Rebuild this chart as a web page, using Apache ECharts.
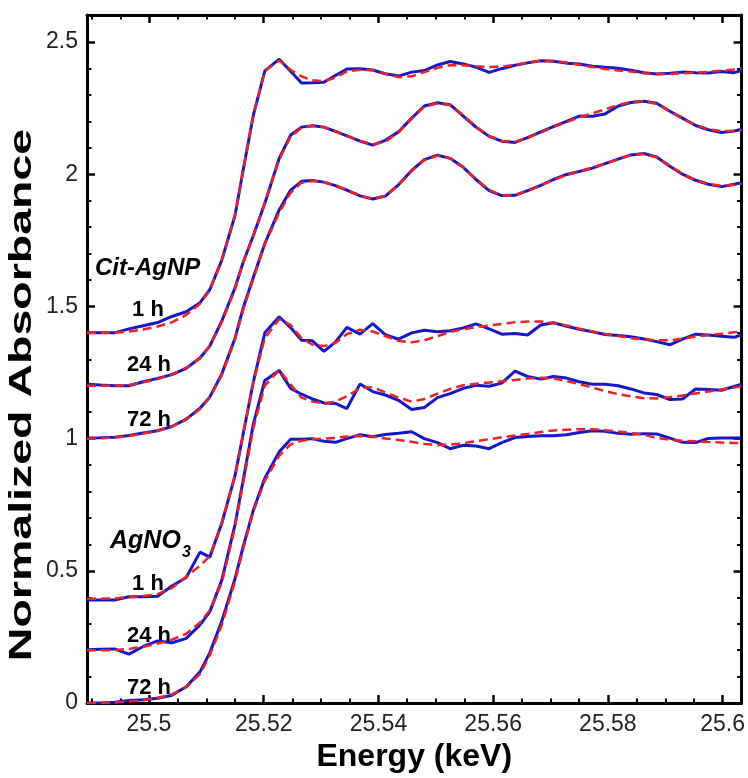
<!DOCTYPE html>
<html>
<head>
<meta charset="utf-8">
<script src="https://cdn.jsdelivr.net/npm/echarts@6.0.0/dist/echarts.min.js"></script>
<style>
html,body{margin:0;padding:0;background:#fff;}
#chart{width:748px;height:778px;}
</style>
</head>
<body>
<div id="chart"></div>
<script>
// Energy grid (keV)
const energy = [25.4892,25.4915,25.4940,25.4965,25.4990,25.5015,25.5040,25.5065,25.5089,25.5106,
25.5127,25.5150,25.5164,25.5182,25.5202,25.5227,25.5247,25.5266,25.5285,25.5305,
25.5325,25.5345,25.5368,25.5390,25.5412,25.5435,25.5458,25.5480,25.5503,25.5525,
25.5548,25.5570,25.5593,25.5615,25.5638,25.5660,25.5683,25.5705,25.5728,25.5750,
25.5773,25.5795,25.5818,25.5840,25.5863,25.5885,25.5908,25.5930,25.5953,25.5975,
25.5998,25.6020,25.6033];

// Cit-AgNP (offset data) : measured (blue) and fit (red)
const citAg1hData = [1.400,1.400,1.400,1.415,1.427,1.439,1.462,1.480,1.514,1.563,1.675,1.844,2.013,2.223,2.391,2.435,2.389,2.345,2.346,2.348,2.373,2.398,2.399,2.394,2.380,2.371,2.386,2.392,2.413,2.426,2.417,2.405,2.385,2.399,2.412,2.421,2.429,2.427,2.420,2.417,2.408,2.404,2.401,2.393,2.384,2.379,2.382,2.386,2.384,2.383,2.388,2.384,2.392];
const citAg1hFit = [1.400,1.400,1.400,1.405,1.413,1.424,1.440,1.468,1.510,1.560,1.675,1.844,2.013,2.223,2.391,2.430,2.395,2.370,2.355,2.352,2.365,2.389,2.395,2.393,2.380,2.367,2.370,2.386,2.402,2.412,2.412,2.408,2.405,2.407,2.413,2.422,2.429,2.428,2.422,2.414,2.405,2.398,2.392,2.388,2.382,2.379,2.379,2.381,2.384,2.387,2.391,2.396,2.401];
const citAg24hData = [1.206,1.203,1.200,1.200,1.215,1.228,1.242,1.266,1.305,1.350,1.445,1.570,1.665,1.768,1.890,2.060,2.148,2.178,2.183,2.178,2.162,2.145,2.125,2.110,2.128,2.160,2.212,2.258,2.270,2.263,2.220,2.178,2.143,2.125,2.120,2.138,2.160,2.180,2.200,2.220,2.219,2.228,2.258,2.271,2.276,2.268,2.238,2.212,2.184,2.168,2.158,2.163,2.170];
const citAg24hFit = [1.200,1.200,1.200,1.203,1.213,1.225,1.243,1.268,1.305,1.350,1.440,1.565,1.665,1.768,1.890,2.055,2.142,2.175,2.183,2.178,2.163,2.145,2.126,2.112,2.123,2.158,2.210,2.255,2.268,2.262,2.222,2.180,2.145,2.126,2.123,2.137,2.158,2.178,2.197,2.215,2.230,2.245,2.262,2.273,2.276,2.266,2.238,2.210,2.186,2.170,2.163,2.163,2.166];
const citAg72hData = [1.002,1.003,1.005,1.012,1.021,1.030,1.046,1.074,1.115,1.157,1.245,1.380,1.493,1.610,1.738,1.865,1.940,1.973,1.976,1.970,1.957,1.940,1.918,1.906,1.917,1.960,2.014,2.055,2.072,2.060,2.026,1.980,1.938,1.919,1.920,1.938,1.958,1.980,1.999,2.010,2.023,2.040,2.057,2.073,2.078,2.065,2.030,2.000,1.977,1.962,1.953,1.962,1.968];
const citAg72hFit = [1.000,1.001,1.004,1.010,1.019,1.030,1.046,1.072,1.112,1.155,1.240,1.375,1.485,1.605,1.735,1.855,1.930,1.968,1.975,1.970,1.957,1.940,1.919,1.907,1.918,1.958,2.012,2.053,2.070,2.060,2.026,1.982,1.940,1.920,1.921,1.937,1.958,1.979,1.997,2.011,2.025,2.040,2.057,2.072,2.077,2.064,2.032,2.002,1.978,1.963,1.956,1.960,1.965];

// AgNO3 (offset data)
const agno1hData = [0.390,0.390,0.390,0.402,0.402,0.404,0.443,0.475,0.571,0.552,0.680,0.860,1.015,1.215,1.400,1.461,1.420,1.372,1.370,1.330,1.365,1.421,1.395,1.435,1.393,1.376,1.400,1.410,1.404,1.408,1.419,1.434,1.415,1.395,1.398,1.392,1.430,1.438,1.425,1.414,1.404,1.394,1.390,1.385,1.377,1.367,1.355,1.376,1.395,1.392,1.387,1.383,1.393];
const agno1hFit = [0.395,0.395,0.396,0.400,0.405,0.412,0.435,0.478,0.520,0.555,0.680,0.860,1.015,1.215,1.380,1.452,1.430,1.380,1.355,1.350,1.362,1.395,1.412,1.405,1.388,1.370,1.364,1.372,1.388,1.403,1.414,1.422,1.428,1.434,1.440,1.443,1.443,1.437,1.428,1.416,1.405,1.396,1.388,1.380,1.375,1.372,1.372,1.378,1.386,1.392,1.397,1.402,1.405];
const agno24hData = [0.202,0.204,0.205,0.185,0.214,0.235,0.228,0.245,0.296,0.345,0.465,0.675,0.840,1.055,1.220,1.258,1.190,1.168,1.150,1.135,1.133,1.114,1.207,1.178,1.165,1.145,1.110,1.118,1.155,1.170,1.190,1.202,1.198,1.210,1.255,1.235,1.225,1.235,1.229,1.215,1.206,1.206,1.200,1.188,1.173,1.167,1.148,1.150,1.188,1.186,1.183,1.197,1.206];
const agno24hFit = [0.200,0.200,0.200,0.205,0.213,0.225,0.240,0.262,0.305,0.350,0.455,0.665,0.830,1.040,1.200,1.260,1.205,1.155,1.140,1.133,1.140,1.160,1.190,1.195,1.175,1.155,1.140,1.150,1.170,1.188,1.202,1.208,1.212,1.217,1.222,1.227,1.230,1.228,1.218,1.206,1.193,1.180,1.168,1.160,1.153,1.152,1.157,1.163,1.171,1.178,1.186,1.193,1.198];
const agno72hData = [0.000,0.000,0.003,0.010,0.013,0.018,0.030,0.062,0.118,0.190,0.310,0.470,0.590,0.730,0.850,0.950,0.998,0.998,1.000,0.990,0.986,1.000,1.015,1.007,1.016,1.020,1.026,1.000,0.985,0.962,0.975,0.972,0.962,0.985,1.004,1.008,1.011,1.011,1.015,1.023,1.030,1.028,1.020,1.017,1.019,1.018,1.002,0.986,0.985,1.001,1.002,1.002,1.002];
const agno72hFit = [0.000,0.000,0.002,0.006,0.011,0.020,0.033,0.060,0.110,0.180,0.295,0.460,0.580,0.725,0.840,0.935,0.978,0.992,0.998,1.000,1.003,1.008,1.010,1.007,1.001,0.995,0.988,0.980,0.976,0.977,0.983,0.990,0.998,1.005,1.012,1.018,1.025,1.031,1.034,1.036,1.036,1.032,1.027,1.022,1.014,1.003,0.996,0.992,0.990,0.987,0.985,0.984,0.983];

const measured = [citAg1hData, citAg24hData, citAg72hData, agno1hData, agno24hData, agno72hData];
const fitted = [citAg1hFit, citAg24hFit, citAg72hFit, agno1hFit, agno24hFit, agno72hFit];
const seriesNames = ['Cit-AgNP 1 h','Cit-AgNP 24 h','Cit-AgNP 72 h','AgNO3 1 h','AgNO3 24 h','AgNO3 72 h'];

const xMin = 25.4892, xMax = 25.6033, yMin = 0, yMax = 2.602;
const FONT = "'Liberation Sans', Arial, Helvetica, sans-serif";

function pairs(vals){ return energy.map((e,i)=>[e, vals[i]]); }

const series = [];
measured.forEach((d,i)=>series.push({
  name: seriesNames[i] + ' data', type:'line', data: pairs(d), symbol:'none',
  lineStyle:{color:'#1717c6', width:3}, z:2, silent:true
}));
fitted.forEach((d,i)=>series.push({
  name: seriesNames[i] + ' fit', type:'line', data: pairs(d), symbol:'none',
  lineStyle:{color:'#ec2226', width:2.5, type:[9,5]}, z:3, silent:true
}));

const tickLabel = {fontSize:23, color:'#222', fontFamily:FONT};
function xAxisCfg(pos, showLabels){
  return {
    type:'value', position:pos, min:xMin, max:xMax, minInterval:0.02, maxInterval:0.02, splitNumber:6,
    axisLine:{show:true, onZero:false, lineStyle:{color:'#000', width:3}},
    axisTick:{show:true, inside:true, length:8, lineStyle:{color:'#000', width:2.5}},
    minorTick:{show:true, splitNumber:4, length:4.5, lineStyle:{color:'#000', width:2}},
    splitLine:{show:false},
    axisLabel: showLabels ? Object.assign({show:true, margin:10, showMinLabel:false, showMaxLabel:false,
      formatter:v=>String(+v.toFixed(3))}, tickLabel) : {show:false}
  };
}
function yAxisCfg(pos, showLabels){
  return {
    type:'value', position:pos, min:yMin, max:yMax, interval:0.5,
    axisLine:{show:true, onZero:false, lineStyle:{color:'#000', width:3}},
    axisTick:{show:true, inside:true, length:8, lineStyle:{color:'#000', width:2.5}},
    minorTick:{show:true, splitNumber:5, length:4.5, lineStyle:{color:'#000', width:2}},
    splitLine:{show:false},
    axisLabel: showLabels ? Object.assign({show:true, margin:9, showMaxLabel:false,
      formatter:v=>String(+v.toFixed(2))}, tickLabel) : {show:false}
  };
}

const xBottom = xAxisCfg('bottom', true);
xBottom.name = 'Energy (keV)';
xBottom.nameLocation = 'middle';
xBottom.nameGap = 27;
xBottom.nameTextStyle = {fontSize:32, fontWeight:'bold', color:'#000', fontFamily:FONT};

const lbl = (text, x, y, size, italic, align) => ({
  type:'text', x:x, y:y, silent:true,
  style:{text:text, fill:'#000', font:(italic?'italic ':'')+'bold '+size+'px '+FONT,
         align:align||'center', verticalAlign:'middle'}
});

const option = {
  animation:false,
  backgroundColor:'#fff',
  grid:{left:87, right:6, top:15, bottom:69, containLabel:false},
  xAxis:[xBottom, xAxisCfg('top', false)],
  yAxis:[yAxisCfg('left', true), yAxisCfg('right', false)],
  series: series,
  graphic:[
    {type:'text', x:22, y:395, rotation:Math.PI/2, scaleX:1.5, silent:true,
     style:{text:'Normalized Absorbance', fill:'#000', font:'bold 31px '+FONT, align:'center', verticalAlign:'middle'}},
    lbl('Cit-AgNP', 95, 268, 24, true, 'left'),
    lbl('1 h', 148, 310, 22, false),
    lbl('24 h', 149, 365, 22, false),
    lbl('72 h', 149, 420, 22, false),
    lbl('AgNO', 110, 541, 25, true, 'left'),
    lbl('3', 182, 553, 16, true, 'left'),
    lbl('1 h', 148, 584, 22, false),
    lbl('24 h', 149, 636, 22, false),
    lbl('72 h', 149, 688, 22, false)
  ]
};

const chart = echarts.init(document.getElementById('chart'), null, {renderer:'canvas'});
chart.setOption(option);
</script>
</body>
</html>
